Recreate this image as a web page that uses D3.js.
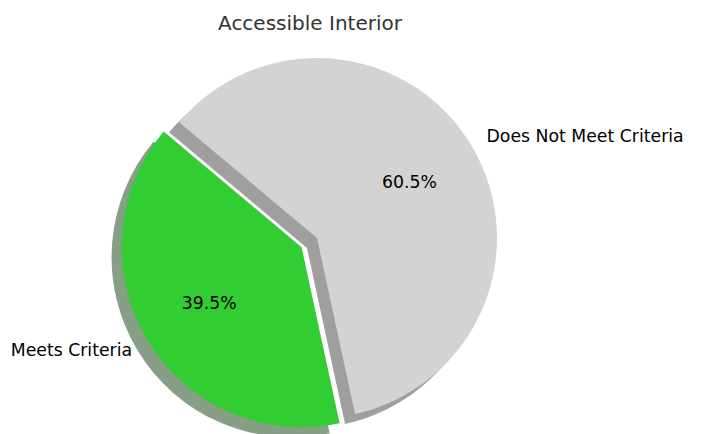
<!DOCTYPE html>
<html>
<head>
<meta charset="utf-8">
<script src="https://cdn.jsdelivr.net/npm/d3@7"></script>
<style>
  html, body { margin: 0; padding: 0; background: #fff; }
  svg { display: block; font-family: "DejaVu Sans", sans-serif; }
</style>
</head>
<body>
<svg id="chart" width="701" height="434"></svg>
<script>
const title = "Accessible Interior";
const categories = ["Meets Criteria", "Does Not Meet Criteria"];
const values = [39.5, 60.5];
const colors = ["#32cd32", "#d3d3d3"];
const explode = [0.1, 0];

const W = 701, H = 434;
const cx = 317, cy = 238, R = 180;
const startAngleDeg = 140;          // matplotlib-style, counter-clockwise from +x
const shadowOff = 0.0556 * R;        // shadow offset (left / down)

const svg = d3.select("#chart");

const toRad = d => d * Math.PI / 180;
const d3Start = toRad(90 - startAngleDeg);
const pie = d3.pie().sort(null).value(d => d.v)
  .startAngle(d3Start).endAngle(d3Start - 2 * Math.PI);

const data = categories.map((c, i) => ({ c, v: values[i], col: colors[i], ex: explode[i] }));
const arcs = pie(data);
const arc = d3.arc().innerRadius(0).outerRadius(R);

function midVec(a) {
  const m = (a.startAngle + a.endAngle) / 2;
  return [Math.sin(m), -Math.cos(m)];
}

const shade = c => {
  const k = d3.rgb(c);
  return d3.rgb(k.r * 0.3, k.g * 0.3, k.b * 0.3).toString();
};

const g = svg.append("g").attr("transform", `translate(${cx},${cy})`);

// shadows
g.selectAll("path.shadow").data(arcs).enter().append("path")
  .attr("class", "shadow")
  .attr("d", arc)
  .attr("fill", d => shade(d.data.col))
  .attr("fill-opacity", 0.5)
  .attr("transform", d => {
    const [ux, uy] = midVec(d);
    const e = d.data.ex * R;
    return `translate(${ux * e - shadowOff},${uy * e + shadowOff})`;
  });

// wedges
g.selectAll("path.wedge").data(arcs).enter().append("path")
  .attr("class", "wedge")
  .attr("d", arc)
  .attr("fill", d => d.data.col)
  .attr("transform", d => {
    const [ux, uy] = midVec(d);
    const e = d.data.ex * R;
    return `translate(${ux * e},${uy * e})`;
  });

// category labels
g.selectAll("text.lbl").data(arcs).enter().append("text")
  .attr("class", "lbl")
  .attr("x", d => { const [ux] = midVec(d); return ux * (d.data.ex + 1.1) * R; })
  .attr("y", d => { const [, uy] = midVec(d); return uy * (d.data.ex + 1.1) * R; })
  .attr("text-anchor", d => midVec(d)[0] < 0 ? "end" : "start")
  .attr("dominant-baseline", "central")
  .attr("font-size", 17.3)
  .attr("fill", "#000")
  .text(d => d.data.c);

// percentages
g.selectAll("text.pct").data(arcs).enter().append("text")
  .attr("class", "pct")
  .attr("x", d => { const [ux] = midVec(d); return ux * (d.data.ex + 0.6) * R; })
  .attr("y", d => { const [, uy] = midVec(d); return uy * (d.data.ex + 0.6) * R; })
  .attr("text-anchor", "middle")
  .attr("dominant-baseline", "central")
  .attr("font-size", 17.3)
  .attr("fill", "#000")
  .text(d => d3.format(".1f")(d.data.v) + "%");

svg.append("text")
  .attr("x", 310).attr("y", 23)
  .attr("text-anchor", "middle")
  .attr("dominant-baseline", "central")
  .attr("font-size", 20)
  .attr("fill", "#333")
  .text(title);
</script>
</body>
</html>
